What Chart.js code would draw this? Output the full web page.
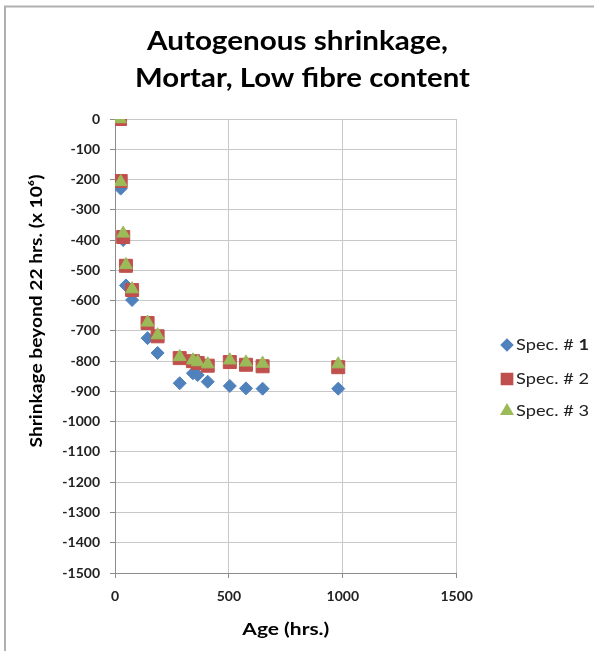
<!DOCTYPE html>
<html><head><meta charset="utf-8">
<script src="https://cdn.jsdelivr.net/npm/chart.js@4/dist/chart.umd.min.js"></script>
<style>html,body{margin:0;padding:0;background:#fff;} canvas{display:block}</style>
</head><body>
<canvas id="c" width="594" height="651"></canvas>
<script>
// ---- data ----
const ageHrs = [22, 25, 36, 48, 75, 143, 187, 284, 342, 363, 407, 504, 575, 648, 980];
const spec1  = [0, -230, -400, -550, -598, -724, -773, -873, -840, -846, -868, -882, -890, -891, -891];
const spec2  = [0, -205, -390, -485, -565, -674, -718, -790, -800, -806, -815, -803, -812, -817, -820];
const spec3  = [0, -208, -378, -482, -562, -672, -714, -786, -797, -803, -810, -797, -804, -808, -810];
const seriesNames = ['Spec. # 1', 'Spec. # 2', 'Spec. # 3'];
const xTicks = [0, 500, 1000, 1500];
const yTicks = [0,-100,-200,-300,-400,-500,-600,-700,-800,-900,-1000,-1100,-1200,-1300,-1400,-1500];
const titleLines = ['Autogenous shrinkage,', 'Mortar, Low fibre content'];
const xTitle = 'Age (hrs.)';
const yTitle = 'Shrinkage beyond 22 hrs. (x 10\u2076)';

const colors = ['#4F81BD', '#C0504D', '#9BBB59'];
const styles = ['rectRot', 'rect', 'triangle'];
const radii = [6.5, 9.2, 7.4];

function pts(ys){ return ageHrs.map((x,i)=>({x:x, y:ys[i]})); }
const FONT = 'Lato, "Open Sans", sans-serif';

// draw text stretched horizontally to a target width, centred at x
function fitText(ctx, text, cx, y, target){
  const w = ctx.measureText(text).width;
  const sx = target / w;
  ctx.save();
  ctx.translate(cx, y);
  ctx.scale(sx, 1);
  ctx.textAlign = 'center';
  ctx.fillText(text, 0, 0);
  ctx.restore();
}

const decor = {
  id: 'decor',
  beforeDraw(chart){
    const ctx = chart.ctx;
    ctx.save();
    ctx.fillStyle = '#fff';
    ctx.fillRect(0,0,chart.width,chart.height);
    ctx.restore();
  },
  afterDraw(chart){
    const ctx = chart.ctx;
    const ca = chart.chartArea;
    ctx.save();
    // frame
    ctx.strokeStyle = '#B0B0B0';
    ctx.lineWidth = 2;
    ctx.beginPath();
    ctx.moveTo(5, 651);
    ctx.lineTo(5, 6.5);
    ctx.lineTo(594, 6.5);
    ctx.stroke();
    // title
    ctx.fillStyle = '#000';
    ctx.textBaseline = 'alphabetic';
    ctx.font = 'bold 26px ' + FONT;
    fitText(ctx, titleLines[0], 297.5, 50, 301);
    fitText(ctx, titleLines[1], 302.5, 87, 335);
    // x title
    ctx.font = 'bold 17px ' + FONT;
    fitText(ctx, xTitle, (ca.left+ca.right)/2, 635, 87);
    // y title
    ctx.save();
    ctx.translate(37, 311);
    ctx.rotate(-Math.PI/2);
    ctx.textBaseline = 'middle';
    ctx.font = 'bold 17px ' + FONT;
    fitText(ctx, yTitle, 0, 0, 273);
    ctx.restore();
    // legend
    const rows = [345, 379, 411];
    chart.data.datasets.forEach((ds, i) => {
      const y = rows[i];
      ctx.fillStyle = ds.backgroundColor;
      ctx.strokeStyle = ds.borderColor;
      Chart.helpers.drawPoint(ctx, {pointStyle: ds.pointStyle, radius: ds.pointRadius*0.82, rotation: 0, borderWidth: 1}, 507, y);
      ctx.fillStyle = '#222';
      ctx.textBaseline = 'middle';
      const name = seriesNames[i];
      const head = name.slice(0, name.length-1);
      const tail = name.slice(-1);
      ctx.save();
      ctx.translate(516, y);
      ctx.font = '16px ' + FONT;
      const w1 = ctx.measureText(head).width;
      ctx.font = (i===0 ? 'bold ' : '') + '16px ' + FONT;
      const w2 = ctx.measureText(tail).width;
      ctx.scale(73 / (w1 + w2), 1);
      ctx.textAlign = 'left';
      ctx.font = '16px ' + FONT;
      ctx.fillText(head, 0, 0);
      ctx.font = (i===0 ? 'bold ' : '') + '16px ' + FONT;
      ctx.fillText(tail, w1, 0);
      ctx.restore();
    });
    ctx.restore();
  }
};

const datasets = [spec1, spec2, spec3].map((ys, i) => ({
  label: seriesNames[i],
  data: pts(ys),
  showLine: false,
  pointStyle: styles[i],
  pointRadius: radii[i],
  pointHoverRadius: radii[i],
  backgroundColor: colors[i],
  borderColor: colors[i],
  borderWidth: 1,
  order: 3 - i
}));

new Chart(document.getElementById('c'), {
  type: 'scatter',
  data: { datasets },
  options: {
    responsive: false,
    animation: false,
    events: [],
    layout: { padding: { left: 0, top: 119, right: 137.3, bottom: 0 } },
    plugins: { legend: { display: false }, title: { display: false }, tooltip: { enabled: false } },
    scales: {
      x: {
        type: 'linear', min: 0, max: 1500,
        afterBuildTicks(s){ s.ticks = xTicks.map(v=>({value:v})); },
        afterFit(s){ s.height = 78; },
        ticks: { color: '#222', font: { family: FONT, size: 14, weight: 'bold' }, padding: 10, maxRotation: 0, callback: v => String(v) },
        grid: { color: '#C8C8C8', lineWidth: 1, tickLength: 5, tickColor: '#8C8C8C' },
        border: { color: '#8C8C8C', width: 1 }
      },
      y: {
        type: 'linear', min: -1500, max: 0,
        afterBuildTicks(s){ s.ticks = yTicks.map(v=>({value:v})); },
        afterFit(s){ s.width = 115; },
        ticks: { color: '#222', font: { family: FONT, size: 14, weight: 'bold' }, padding: 10, callback: v => String(v) },
        grid: { color: '#C8C8C8', lineWidth: 1, tickLength: 5, tickColor: '#8C8C8C' },
        border: { color: '#8C8C8C', width: 1 }
      }
    }
  },
  plugins: [decor]
});
</script>
</body></html>
